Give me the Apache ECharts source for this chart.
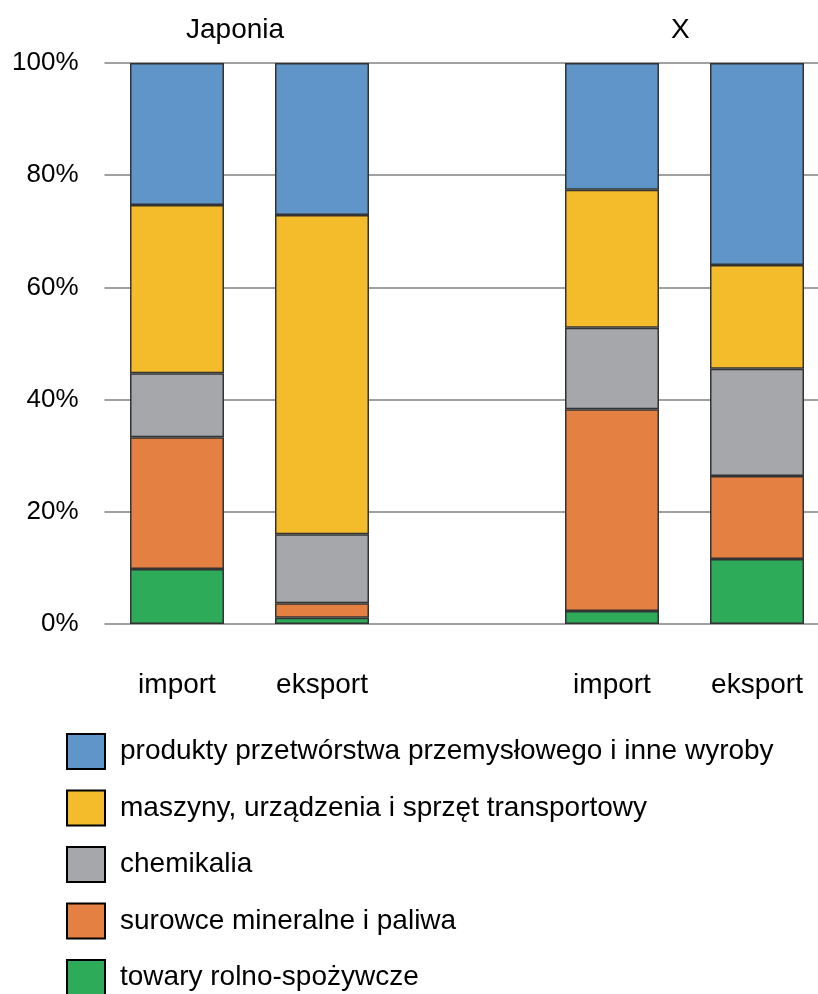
<!DOCTYPE html>
<html><head><meta charset="utf-8">
<script src="https://cdn.jsdelivr.net/npm/echarts@6/dist/echarts.min.js"></script>
<style>html,body{margin:0;padding:0;background:#fff}#c{width:818px;height:994px}</style>
</head><body><div id="c"></div>
<script>
var categories = ['import', 'eksport', '', 'import', 'eksport'];
var groupTitles = ['Japonia', 'X'];
var yTicks = [0, 20, 40, 60, 80, 100];
var seriesNames = ['towary rolno-spożywcze', 'surowce mineralne i paliwa', 'chemikalia', 'maszyny, urządzenia i sprzęt transportowy', 'produkty przetwórstwa przemysłowego i inne wyroby'];
var rolno = [9.8, 1.1, '-', 2.3, 11.6];
var surowce = [23.5, 2.6, '-', 36.0, 14.8];
var chemikalia = [11.4, 12.3, '-', 14.5, 19.1];
var maszyny = [30.0, 56.9, '-', 24.6, 18.5];
var produkty = [25.3, 27.1, '-', 22.6, 36.0];
var colors = ['#2dab58', '#e48042', '#a6a7ab', '#f4bc2a', '#6095c9'];
var values = [rolno, surowce, chemikalia, maszyny, produkty];

var FONT = 'Liberation Sans, Arial, sans-serif';
var chart = echarts.init(document.getElementById('c'));
var series = seriesNames.map(function (n, i) {
  return {
    name: n, type: 'bar', stack: 'a', data: values[i], barWidth: 94,
    itemStyle: { color: colors[i], borderColor: '#333', borderWidth: 1.5 }
  };
});
var legendOrder = seriesNames.slice().reverse();
var legends = legendOrder.map(function (n, i) {
  return {
    orient: 'vertical', left: 66, top: 733 + i * 56.5, padding: 0,
    data: [n],
    itemWidth: 38, itemHeight: 35,
    icon: 'rect', selectedMode: false,
    itemStyle: { borderColor: '#000', borderWidth: 2 },
    textStyle: { color: '#000', fontSize: 28, fontFamily: FONT, padding: [0, 0, 0, 10] }
  };
});
chart.setOption({
  animation: false,
  textStyle: { fontFamily: FONT },
  grid: { left: 104.5, width: 725, top: 63, bottom: 370, containLabel: false, outerBoundsMode: 'none' },
  graphic: [
    { type: 'text', left: 186, top: 16, style: { text: groupTitles[0], font: '28px ' + FONT, fill: '#000' } },
    { type: 'text', left: 671, top: 16, style: { text: groupTitles[1], font: '28px ' + FONT, fill: '#000' } }
  ],
  xAxis: {
    type: 'category', data: categories,
    axisLine: { show: false }, axisTick: { show: false },
    axisLabel: { color: '#000', fontSize: 28, margin: 47, fontFamily: FONT, interval: 0 }
  },
  yAxis: {
    type: 'value', min: yTicks[0], max: yTicks[yTicks.length - 1], interval: 20,
    axisLine: { show: false }, axisTick: { show: false },
    axisLabel: { color: '#000', fontSize: 26, margin: 26, fontFamily: FONT, formatter: '{value}%' },
    splitLine: { lineStyle: { color: '#a0a0a0', width: 2 } }
  },
  legend: legends,
  series: series
});
</script></body></html>
